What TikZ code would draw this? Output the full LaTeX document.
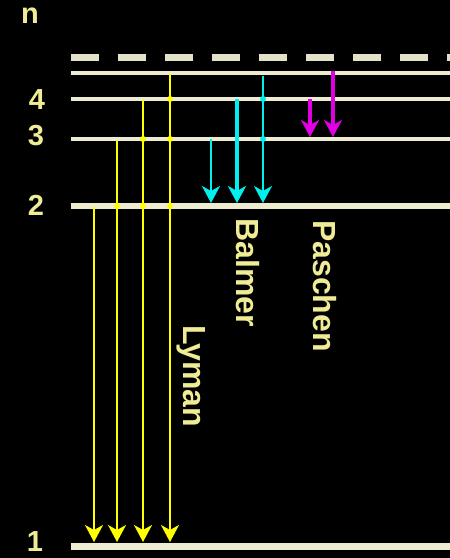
\documentclass[tikz,border=0pt]{standalone}
\usepackage{fontspec}
\setmainfont{Liberation Sans}
\usetikzlibrary{arrows.meta}
\definecolor{lvl}{RGB}{238,236,208}
\definecolor{lbl}{RGB}{240,236,150}
\definecolor{ly}{RGB}{255,255,0}
\definecolor{ba}{RGB}{0,240,240}
\definecolor{pa}{RGB}{225,0,225}
\begin{document}
\begin{tikzpicture}[x=1pt,y=-1pt,
  level/.style={draw=lvl,line width=4.5pt},
  numlbl/.style={text=lbl,font=\bfseries\fontsize{29}{29}\selectfont,inner sep=0pt},
  serlbl/.style={text=lbl,font=\bfseries\fontsize{32}{32}\selectfont,inner sep=0pt,rotate=-90},
  tip/.style={-{Stealth[length=17pt,width=18pt,inset=5pt]}},
  lyarr/.style={tip,draw=ly,line width=2pt},
  baarr/.style={tip,draw=ba,line width=2pt},
  paarr/.style={tip,draw=pa,line width=4pt},
  dot/.style={circle,inner sep=0pt,minimum size=6pt}]
\fill[black] (0,0) rectangle (450,558);
\useasboundingbox (0,0) rectangle (450,558);
% levels
\draw[draw=lvl!90!gray,line width=7pt,dash pattern=on 28pt off 19pt] (71,57) -- (452,57);
\draw[level] (71,73) -- (450,73);
\draw[level] (71,99) -- (450,99);
\draw[level] (71,139) -- (450,139);
\draw[level,line width=6.5pt] (71,206) -- (450,206);
\draw[level,line width=7pt] (71,546) -- (450,546);
% labels
\node[numlbl] (ln) at (30,16) {n};
\node[numlbl] (l4) at (37,100) {4};
\node[numlbl] (l3) at (36,136) {3};
\node[numlbl] (l2) at (36,205) {2};
\node[numlbl] (l1) at (35,542) {1};
% Lyman
\coordinate (a1s) at (94,207); \coordinate (a1e) at (94,542);
\coordinate (a2s) at (117,141); \coordinate (a2e) at (117,542);
\coordinate (a3s) at (143,100); \coordinate (a3e) at (143,542);
\coordinate (a4s) at (170,74); \coordinate (a4e) at (170,542);
\draw[lyarr] (a1s) -- (a1e);
\draw[lyarr] (a2s) -- (a2e);
\draw[lyarr] (a3s) -- (a3e);
\draw[lyarr] (a4s) -- (a4e);
\foreach \x/\y in {117/206,143/206,170/206,143/139,170/139,170/99}
  \node[dot,fill=ly] at (\x,\y) {};
% Balmer
\coordinate (b1s) at (211,139); \coordinate (b1e) at (211,203);
\coordinate (b2s) at (237,99); \coordinate (b2e) at (237,203);
\coordinate (b3s) at (263,76); \coordinate (b3e) at (263,203);
\draw[baarr] (b1s) -- (b1e);
\draw[baarr,line width=4pt] (b2s) -- (b2e);
\draw[baarr] (b3s) -- (b3e);
\foreach \y in {139,99}
  \node[dot,fill=ba] at (263,\y) {};
% Paschen
\coordinate (p1s) at (310,99); \coordinate (p1e) at (310,137);
\coordinate (p2s) at (333,71); \coordinate (p2e) at (333,137);
\draw[paarr] (p1s) -- (p1e);
\draw[paarr] (p2s) -- (p2e);
% series labels
\node[serlbl] (lyman) at (191,376) {Lyman};
\node[serlbl] (balmer) at (248,273) {Balmer};
\node[serlbl] (paschen) at (325,286) {Paschen};
\end{tikzpicture}
\end{document}
